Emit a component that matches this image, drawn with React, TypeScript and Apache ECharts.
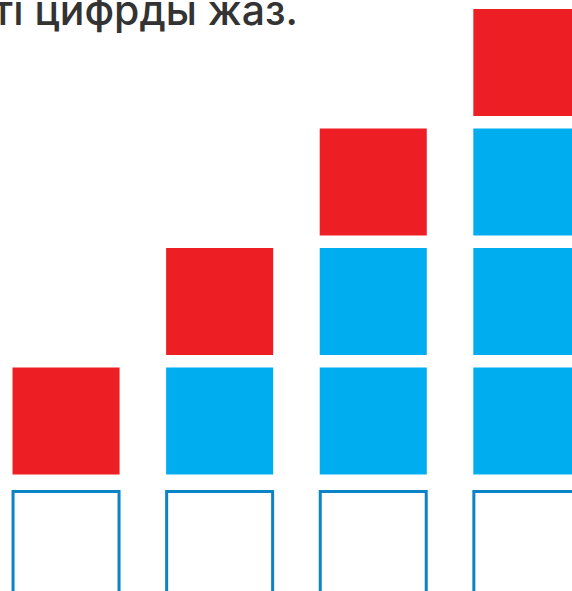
import React, { useEffect, useRef } from "react";
import * as echarts from "echarts";

const columns = [0, 1, 2, 3];
const blueCounts = [0, 1, 2, 3];
const redCounts = [1, 1, 1, 1];
const titleText = "ті цифрды жаз.";

const BLUE = "#00AEEF";
const RED = "#ED1F24";
const OUTLINE = "#0A84C6";

export default function App() {
  const ref = useRef<HTMLDivElement>(null);
  useEffect(() => {
    document.body.style.margin = "0";
    const chart = echarts.init(ref.current!, null, { renderer: "svg" });

    const squares: any[] = [];
    columns.forEach((c, i) => {
      let level = 0;
      for (let b = 0; b < blueCounts[i]; b++) squares.push([c, level++, 0]);
      for (let r = 0; r < redCounts[i]; r++) squares.push([c, level++, 1]);
    });
    const outlines = columns.map((c) => [c, 0]);

    chart.setOption({
      animation: false,
      grid: { left: 0, right: 0, top: 0, bottom: 116.5, containLabel: false },
      xAxis: { type: "value", min: -0.43, max: 3.294, show: false, splitLine: { show: false } },
      yAxis: { type: "value", min: 0, max: 3.971, show: false, splitLine: { show: false } },
      graphic: [
        {
          type: "text",
          x: 298,
          y: 10,
          style: {
            text: titleText,
            font: "500 41px Inter",
            fill: "#333333",
            textAlign: "right",
            textVerticalAlign: "middle",
          },
        },
      ],
      series: [
        {
          type: "custom",
          clip: false,
          data: squares,
          renderItem: (params: any, api: any) => {
            const col = api.value(0);
            const lvl = api.value(1);
            const kind = api.value(2);
            const [cx, yb] = api.coord([col, lvl]);
            const w = api.size([1, 0])[0] * 0.697;
            return {
              type: "rect",
              shape: { x: cx - w / 2, y: yb - w, width: w, height: w },
              style: { fill: kind === 1 ? RED : BLUE },
            };
          },
        },
        {
          type: "custom",
          clip: false,
          data: outlines,
          renderItem: (params: any, api: any) => {
            const col = api.value(0);
            const [cx, yb] = api.coord([col, api.value(1)]);
            const w = api.size([1, 0])[0] * 0.69;
            return {
              type: "rect",
              shape: { x: cx - w / 2, y: yb + 17, width: w, height: 140 },
              style: { fill: "none", stroke: OUTLINE, lineWidth: 3 },
            };
          },
        },
      ],
    });
    return () => chart.dispose();
  }, []);
  return <div ref={ref} style={{ width: 572, height: 591 }} />;
}
